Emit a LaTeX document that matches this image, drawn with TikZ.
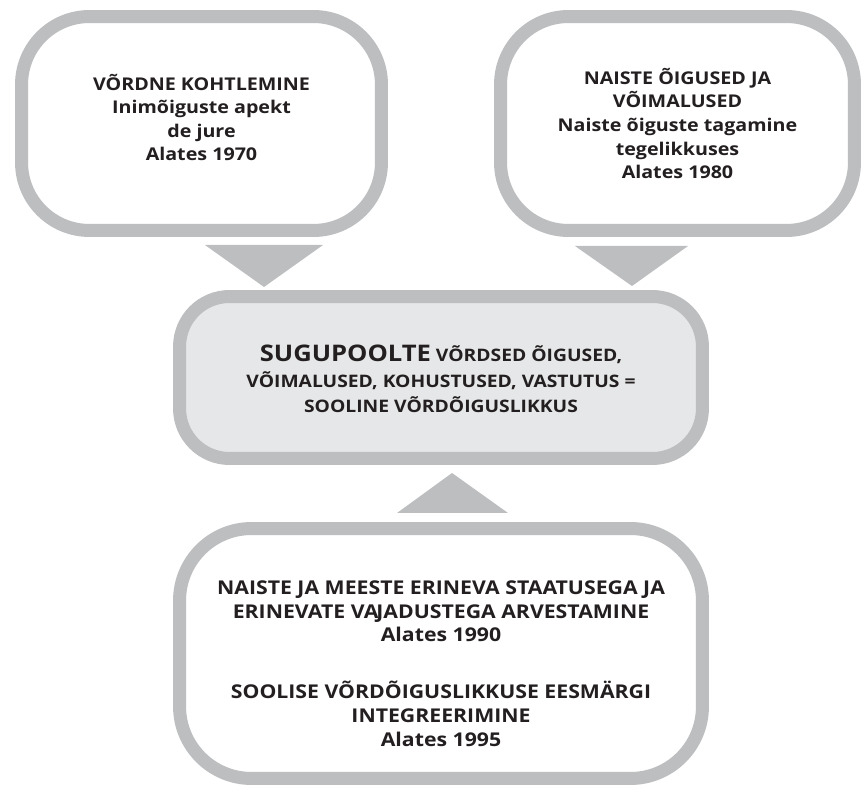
\documentclass[tikz,border=0pt]{standalone}
\usepackage{fontspec}
\setmainfont{Open Sans}[FakeStretch=1.12]
\usepackage{xcolor}
\usepackage{tikz}
\usetikzlibrary{positioning}
\definecolor{FrameGrey}{HTML}{BCBEC0}
\definecolor{CoreGrey}{HTML}{E6E7E8}
\definecolor{TextDark}{HTML}{231F20}

\begin{document}
\begin{tikzpicture}[x=0.02cm, y=-0.02cm,
    stage/.style={draw=FrameGrey, fill=white, line width=7.4pt, inner sep=0pt},
    caption/.style={align=center, text=TextDark, inner sep=0pt,
      font=\bfseries\fontsize{10}{13.4}\selectfont},
    pointer/.style={fill=FrameGrey}]
  \useasboundingbox (0,0) rectangle (862,786);

  % the two starting approaches
  \node[stage, rounded corners=1.36cm, minimum width=7.2cm, minimum height=4.28cm]
    (dejure) at (201.5,123.5) {};
  \node[caption] (dejuretext) at ([yshift=3.4pt]dejure.center) {%
    VÕRDNE KOHTLEMINE\\
    Inimõiguste apekt\\
    de jure\\
    Alates 1970
  };
  \node[stage, rounded corners=1.36cm, minimum width=7.08cm, minimum height=4.28cm]
    (defacto) at (677.5,123.5) {};
  \node[caption] (defactotext) at (defacto.center) {%
    NAISTE ÕIGUSED JA\\
    VÕIMALUSED\\
    Naiste õiguste tagamine\\
    tegelikkuses\\
    Alates 1980
  };

  % the common goal
  \node[stage, fill=CoreGrey, rounded corners=1cm, minimum width=10.46cm,
        minimum height=3.24cm] (goal) at (441,377.5) {};
  \node[caption, font=\bfseries\fontsize{9.8}{14.5}\selectfont]
    (goaltext) at ([yshift=-1pt]goal.center) {%
    {\fontsize{13}{14.5}\selectfont SUGUPOOLTE} VÕRDSED ÕIGUSED,\\
    VÕIMALUSED, KOHUSTUSED, VASTUTUS =\\
    SOOLINE VÕRDÕIGUSLIKKUS
  };

  % the later approaches
  \node[stage, rounded corners=1.44cm, minimum width=10.46cm, minimum height=5cm]
    (mainstream) at (441,653.5) {};
  \node[caption, font=\bfseries\fontsize{10.8}{13.6}\selectfont]
    (mainstreamtext) at ([yshift=-5.7pt]mainstream.center) {%
    NAISTE JA MEESTE ERINEVA STAATUSEGA JA\\
    ERINEVATE VA\kern-1.2pt JADUSTEGA ARVESTAMINE\\
    Alates 1990\\[18.7pt]
    SOOLISE VÕRDÕIGUSLIKKUSE EESMÄRGI\\
    INTEGREERIMINE\\
    Alates 1995
  };

  % pointers into the goal
  \fill[pointer] (205,245) -- (323,245) -- (264,287) -- cycle;
  \fill[pointer] (575,246) -- (688,246) -- (632,286) -- cycle;
  \fill[pointer] (397,513) -- (508,513) -- (452,473) -- cycle;
\end{tikzpicture}
\end{document}
